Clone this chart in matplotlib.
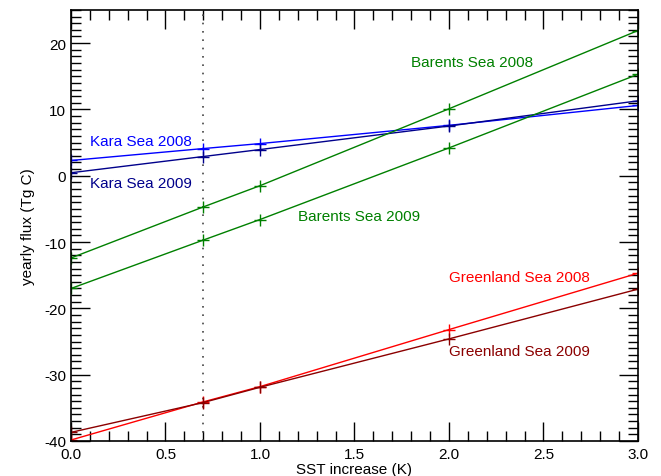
import matplotlib
matplotlib.use('Agg')
import matplotlib.pyplot as plt
from matplotlib.ticker import MultipleLocator

plt.rcParams['font.family'] = ['Liberation Sans', 'DejaVu Sans']
plt.rcParams['axes.unicode_minus'] = False

# SST increase (K)
sst = [0.0, 0.7, 1.0, 2.0, 3.0]

# yearly flux (Tg C)
kara_2008 = [2.3, 4.1, 4.85, 7.6, 10.6]
kara_2009 = [0.45, 2.9, 3.95, 7.5, 11.3]
barents_2008 = [-12.4, -4.7, -1.5, 10.1, 21.9]
barents_2009 = [-17.0, -9.7, -6.6, 4.2, 15.3]
greenland_2008 = [-39.85, -34.1, -31.8, -23.2, -14.7]
greenland_2009 = [-38.7, -34.2, -31.9, -24.6, -17.1]

series = [
    (kara_2008, '#0000ff', 'Kara Sea 2008', 0.1, 5.3),
    (kara_2009, '#00008b', 'Kara Sea 2009', 0.1, -1.1),
    (barents_2008, '#008000', 'Barents Sea 2008', 1.8, 17.1),
    (barents_2009, '#008000', 'Barents Sea 2009', 1.2, -6.1),
    (greenland_2008, '#ff0000', 'Greenland Sea 2008', 2.0, -15.2),
    (greenland_2009, '#8b0000', 'Greenland Sea 2009', 2.0, -26.4),
]

fig = plt.figure(figsize=(6.61, 4.77), dpi=100)
ax = fig.add_axes([0.1074, 0.0734, 0.8578, 0.9036])

ax.axvline(0.7, color='#444444', linestyle=(0, (1, 4)), linewidth=1.2)

for vals, col, name, tx, ty in series:
    ax.plot(sst, vals, color=col, linewidth=1.0, marker='+', markersize=8,
            markeredgewidth=1.0)
    ax.text(tx, ty, name, color=col, fontsize=11, va='center', ha='left')

ax.set_xlim(0, 3)
ax.set_ylim(-40, 25)
ax.xaxis.set_major_locator(MultipleLocator(0.5))
ax.xaxis.set_minor_locator(MultipleLocator(0.1))
ax.yaxis.set_major_locator(MultipleLocator(10))
ax.yaxis.set_minor_locator(MultipleLocator(1))
ax.xaxis.set_major_formatter(matplotlib.ticker.FormatStrFormatter('%.1f'))
ax.tick_params(which='both', direction='in', top=True, right=True,
               labelsize=11, color='black')
ax.tick_params(which='major', length=14, width=1.0)
ax.tick_params(axis='x', which='major', pad=4)
ax.tick_params(which='minor', length=7, width=1.0)
for s in ax.spines.values():
    s.set_linewidth(1.2)

ax.set_xlabel('SST increase (K)', fontsize=11, va='center')
ax.xaxis.set_label_coords(0.5, -0.064)
ax.set_ylabel('yearly flux (Tg C)', fontsize=11, va='center')
ax.yaxis.set_label_coords(-0.076, 0.5)

fig.savefig('out.png', dpi=100)
